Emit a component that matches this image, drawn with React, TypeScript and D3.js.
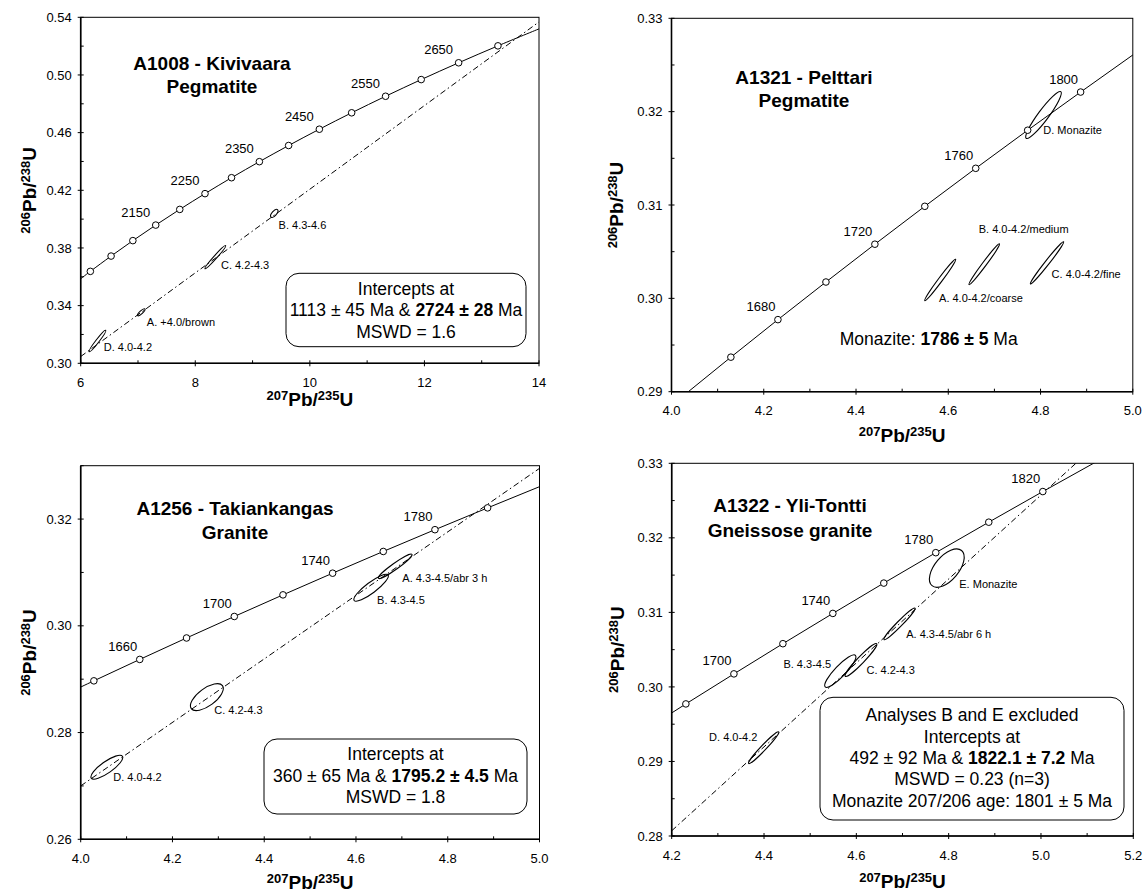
import React from 'react';
import * as d3 from 'd3';

const FONT = '"Liberation Sans", Arial, Helvetica, sans-serif';

// Concordia tick points (Ma), younger range 1620-1860
const youngAges = [1620, 1640, 1660, 1680, 1700, 1720, 1740, 1760, 1780, 1800, 1820, 1840, 1860];
const youngX = [3.9306, 4.0287, 4.1287, 4.2307, 4.3348, 4.4409, 4.5491, 4.6595, 4.7721, 4.8869, 5.004, 5.1234, 5.2452];
const youngY = [0.2857, 0.28969, 0.2937, 0.29772, 0.30175, 0.3058, 0.30986, 0.31393, 0.31801, 0.3221, 0.32621, 0.33033, 0.33446];

// older range for the Kivivaara plot
const oldAges = [1970, 2000, 2050, 2100, 2150, 2200, 2250, 2300, 2350, 2400, 2450, 2500, 2550, 2600, 2650, 2700, 2750];
const oldX = [5.9598, 6.1685, 6.5304, 6.9105, 7.3097, 7.7292, 8.1699, 8.6327, 9.1189, 9.6296, 10.166, 10.7296, 11.3218, 11.9436, 12.597, 13.2833, 14.0037];
const oldY = [0.35743, 0.36377, 0.37438, 0.38509, 0.39587, 0.40674, 0.41769, 0.42873, 0.43986, 0.45107, 0.46237, 0.47376, 0.48523, 0.4968, 0.50845, 0.5202, 0.53203];

// A1008
const kivLabels = [2150, 2250, 2350, 2450, 2550, 2650];
const kivDiscX = [6, 14];
const kivDiscY = [0.3047, 0.5368];
const kivEllipses = [
  { name: 'B. 4.3-4.6', x1: 9.323, y1: 0.4014, x2: 9.435, y2: 0.4066, ratio: 0.45, lx: 9.454, ly: 0.3933 },
  { name: 'C. 4.2-4.3', x1: 8.17, y1: 0.3656, x2: 8.53, y2: 0.3816, ratio: 0.1, lx: 8.448, ly: 0.3651 },
  { name: 'A. +4.0/brown', x1: 6.994, y1: 0.3331, x2: 7.121, y2: 0.3377, ratio: 0.3, lx: 7.155, ly: 0.3258 },
  { name: 'D. 4.0-4.2', x1: 6.149, y1: 0.308, x2: 6.437, y2: 0.3229, ratio: 0.12, lx: 6.402, ly: 0.3087 },
];

// A1321
const pelLabels = [1680, 1720, 1760, 1800];
const pelEllipses = [
  { name: 'A. 4.0-4.2/coarse', x1: 4.549, y1: 0.29975, x2: 4.616, y2: 0.30419, ratio: 0.08, lx: 4.58, ly: 0.2996 },
  { name: 'B. 4.0-4.2/medium', x1: 4.645, y1: 0.30147, x2: 4.711, y2: 0.30584, ratio: 0.08, lx: 4.666, ly: 0.307 },
  { name: 'C. 4.0-4.2/fine', x1: 4.778, y1: 0.30154, x2: 4.85, y2: 0.30606, ratio: 0.08, lx: 4.824, ly: 0.3022 },
  { name: 'D. Monazite', x1: 4.769, y1: 0.31714, x2: 4.844, y2: 0.32214, ratio: 0.18, lx: 4.806, ly: 0.3176 },
];

// A1256
const takLabels = [1660, 1700, 1740, 1780];
const takDiscX = [4.0, 5.0];
const takDiscY = [0.27, 0.3295];
const takEllipses = [
  { name: 'A. 4.3-4.5/abr 3 h', x1: 4.649, y1: 0.30891, x2: 4.722, y2: 0.3134, ratio: 0.15, lx: 4.701, ly: 0.3083 },
  { name: 'B. 4.3-4.5', x1: 4.596, y1: 0.30474, x2: 4.67, y2: 0.30953, ratio: 0.25, lx: 4.646, ly: 0.304 },
  { name: 'C. 4.2-4.3', x1: 4.241, y1: 0.28449, x2: 4.309, y2: 0.2888, ratio: 0.45, lx: 4.291, ly: 0.2835 },
  { name: 'D. 4.0-4.2', x1: 4.023, y1: 0.27145, x2: 4.091, y2: 0.27557, ratio: 0.3, lx: 4.071, ly: 0.2709 },
];

// A1322
const yliLabels = [1700, 1740, 1780, 1820];
const yliDiscX = [4.2, 5.2];
const yliDiscY = [0.2807, 0.337];
const yliEllipses = [
  { name: 'E. Monazite', x1: 4.764, y1: 0.31358, x2: 4.828, y2: 0.3183, ratio: 0.52, lx: 4.823, ly: 0.3133 },
  { name: 'A. 4.3-4.5/abr 6 h', x1: 4.66, y1: 0.30634, x2: 4.727, y2: 0.31058, ratio: 0.12, lx: 4.708, ly: 0.3066 },
  { name: 'B. 4.3-4.5', x1: 4.5325, y1: 0.3, x2: 4.598, y2: 0.30424, ratio: 0.25, lx: 4.442, ly: 0.3025 },
  { name: 'C. 4.2-4.3', x1: 4.576, y1: 0.30143, x2: 4.644, y2: 0.3058, ratio: 0.15, lx: 4.622, ly: 0.3017 },
  { name: 'D. 4.0-4.2', x1: 4.3667, y1: 0.28973, x2: 4.4317, y2: 0.29397, ratio: 0.12, lx: 4.281, ly: 0.2928 },
];

// axis ticks
const kivXMajor = [6, 8, 10, 12, 14];
const kivXMinor = [7, 9, 11, 13];
const kivYMajor = [0.3, 0.34, 0.38, 0.42, 0.46, 0.5, 0.54];
const kivYMinor = [0.32, 0.36, 0.4, 0.44, 0.48, 0.52];
const x4Major = [4.0, 4.2, 4.4, 4.6, 4.8, 5.0];
const x4Minor = [4.1, 4.3, 4.5, 4.7, 4.9];
const x42Major = [4.2, 4.4, 4.6, 4.8, 5.0, 5.2];
const x42Minor = [4.3, 4.5, 4.7, 4.9, 5.1];
const pelYMajor = [0.29, 0.3, 0.31, 0.32, 0.33];
const pelYMinor = [0.295, 0.305, 0.315, 0.325];
const takYMajor = [0.26, 0.28, 0.3, 0.32];
const takYMinor = [0.27, 0.29, 0.31, 0.33];
const yliYMajor = [0.28, 0.29, 0.3, 0.31, 0.32, 0.33];
const yliYMinor = [0.285, 0.295, 0.305, 0.315, 0.325];

type Seg = { t: string; b?: boolean };

const panels = [
  {
    id: 'kiv', left: 80.7, right: 539, top: 17.3, bottom: 363.3,
    xDomain: [6, 14], yDomain: [0.3, 0.54], xMajor: kivXMajor, xMinor: kivXMinor, yMajor: kivYMajor, yMinor: kivYMinor,
    xFmt: d3.format('d'), ages: oldAges, cx: oldX, cy: oldY, labels: kivLabels, labelDx: -20,
    disc: [kivDiscX, kivDiscY], ellipses: kivEllipses,
    title: ['A1008 - Kivivaara', 'Pegmatite'], titleX: 212, titleY: [70, 93], yTitleX: 36, xTitleY: 406,
    box: { x: 286, y: 273.3, w: 240, h: 73.4, cx: 406, ys: [294.5, 316, 337.5] },
    lines: [
      [{ t: 'Intercepts at' }],
      [{ t: '1113 ± 45 Ma & ' }, { t: '2724 ± 28', b: true }, { t: ' Ma' }],
      [{ t: 'MSWD = 1.6' }],
    ] as Seg[][],
  },
  {
    id: 'pel', left: 671.5, right: 1132.8, top: 18.3, bottom: 391.7,
    xDomain: [4, 5], yDomain: [0.29, 0.33], xMajor: x4Major, xMinor: x4Minor, yMajor: pelYMajor, yMinor: pelYMinor,
    xFmt: d3.format('.1f'), ages: youngAges, cx: youngX, cy: youngY, labels: pelLabels, labelDx: -17,
    disc: null, ellipses: pelEllipses,
    title: ['A1321 - Pelttari', 'Pegmatite'], titleX: 804, titleY: [84, 107], yTitleX: 623, xTitleY: 442,
    box: null, note: { x: 928.7, y: 345 },
    lines: [[{ t: 'Monazite: ' }, { t: '1786 ± 5', b: true }, { t: ' Ma' }]] as Seg[][],
  },
  {
    id: 'tak', left: 80.7, right: 539.5, top: 465.7, bottom: 839.3,
    xDomain: [4, 5], yDomain: [0.26, 0.33], xMajor: x4Major, xMinor: x4Minor, yMajor: takYMajor, yMinor: takYMinor,
    xFmt: d3.format('.1f'), ages: youngAges, cx: youngX, cy: youngY, labels: takLabels, labelDx: -17,
    disc: [takDiscX, takDiscY], ellipses: takEllipses,
    title: ['A1256 - Takiankangas', 'Granite'], titleX: 235, titleY: [515, 539], yTitleX: 36, xTitleY: 889,
    box: { x: 264, y: 739, w: 263, h: 75, cx: 395.5, ys: [760, 781.7, 802.7] },
    lines: [
      [{ t: 'Intercepts at' }],
      [{ t: '360 ± 65 Ma & ' }, { t: '1795.2 ± 4.5', b: true }, { t: ' Ma' }],
      [{ t: 'MSWD = 1.8' }],
    ] as Seg[][],
  },
  {
    id: 'yli', left: 671.7, right: 1133.3, top: 463.3, bottom: 836,
    xDomain: [4.2, 5.2], yDomain: [0.28, 0.33], xMajor: x42Major, xMinor: x42Minor, yMajor: yliYMajor, yMinor: yliYMinor,
    xFmt: d3.format('.1f'), ages: youngAges, cx: youngX, cy: youngY, labels: yliLabels, labelDx: -17,
    disc: [yliDiscX, yliDiscY], ellipses: yliEllipses,
    title: ['A1322 - Yli-Tontti', 'Gneissose granite'], titleX: 790, titleY: [512, 537], yTitleX: 624, xTitleY: 888,
    box: { x: 820, y: 697.3, w: 304, h: 122.7, cx: 972, ys: [721, 742.7, 764.3, 785.3, 806.7] },
    lines: [
      [{ t: 'Analyses B and E excluded' }],
      [{ t: 'Intercepts at' }],
      [{ t: '492 ± 92 Ma & ' }, { t: '1822.1 ± 7.2', b: true }, { t: ' Ma' }],
      [{ t: 'MSWD = 0.23 (n=3)' }],
      [{ t: 'Monazite 207/206 age: 1801 ± 5 Ma' }],
    ] as Seg[][],
  },
];

const Ratio = ({ top, x, y, rotate }: { top: [string, string]; x: number; y: number; rotate?: boolean }) => (
  <text
    transform={rotate ? `translate(${x},${y}) rotate(-90)` : `translate(${x},${y})`}
    textAnchor="middle" fontWeight="bold" fontSize={19} fontFamily={FONT}
  >
    <tspan fontSize={13} dy={-6}>{top[0]}</tspan>
    <tspan dy={6}>Pb/</tspan>
    <tspan fontSize={13} dy={-6}>{top[1]}</tspan>
    <tspan dy={6}>U</tspan>
  </text>
);

const Rich = ({ segs }: { segs: Seg[] }) => (
  <>
    {segs.map((s, i) => (
      <tspan key={i} fontWeight={s.b ? 'bold' : 'normal'}>{s.t}</tspan>
    ))}
  </>
);

const Panel = ({ p }: { p: any }) => {
  const x = d3.scaleLinear().domain(p.xDomain).range([p.left, p.right]);
  const y = d3.scaleLinear().domain(p.yDomain).range([p.bottom, p.top]);
  const eps = 1e-6;
  const inside = (vx: number, vy: number) =>
    vx >= p.xDomain[0] + eps && vx <= p.xDomain[1] - eps && vy >= p.yDomain[0] + eps && vy <= p.yDomain[1] - eps;

  const pts: [number, number][] = p.cx.map((v: number, i: number) => [v, p.cy[i]]);
  const conc = d3.line<[number, number]>().x(d => x(d[0])).y(d => y(d[1])).curve(d3.curveCatmullRom)(pts);
  const disc = p.disc
    ? d3.line<number>().x(d => x(p.disc[0][d])).y(d => y(p.disc[1][d]))([0, 1])
    : null;
  const clipId = `clip-${p.id}`;
  const yFmt = d3.format('.2f');

  return (
    <g fontFamily={FONT}>
      <defs>
        <clipPath id={clipId}>
          <rect x={p.left} y={p.top} width={p.right - p.left} height={p.bottom - p.top} />
        </clipPath>
      </defs>

      {/* frame */}
      <rect x={p.left} y={p.top} width={p.right - p.left} height={p.bottom - p.top} fill="none" stroke="#000" strokeWidth={1} />
      <line x1={p.left} x2={p.right} y1={p.bottom} y2={p.bottom} stroke="#000" strokeWidth={1.6} />
      <line x1={p.left} x2={p.left} y1={p.top} y2={p.bottom} stroke="#000" strokeWidth={1.6} />

      {/* ticks */}
      {p.xMajor.map((v: number) => (
        <g key={'xm' + v}>
          <line x1={x(v)} x2={x(v)} y1={p.bottom - 3} y2={p.bottom + 3} stroke="#000" />
          <text x={x(v)} y={p.bottom + 23.5} textAnchor="middle" fontSize={13}>{p.xFmt(v)}</text>
        </g>
      ))}
      {p.xMinor.map((v: number) => (
        <line key={'xn' + v} x1={x(v)} x2={x(v)} y1={p.bottom - 3} y2={p.bottom} stroke="#000" />
      ))}
      {p.yMajor.map((v: number) => (
        <g key={'ym' + v}>
          <line x1={p.left - 3} x2={p.left + 3} y1={y(v)} y2={y(v)} stroke="#000" />
          <text x={p.left - 9} y={y(v) + 4.6} textAnchor="end" fontSize={13}>{yFmt(v)}</text>
        </g>
      ))}
      {p.yMinor.map((v: number) => (
        <line key={'yn' + v} x1={p.left} x2={p.left + 3} y1={y(v)} y2={y(v)} stroke="#000" />
      ))}

      {/* lines */}
      <g clipPath={`url(#${clipId})`}>
        {disc && <path d={disc} fill="none" stroke="#000" strokeWidth={1} strokeDasharray="6,3,1.5,3" />}
        <path d={conc || ''} fill="none" stroke="#000" strokeWidth={1} />
      </g>

      {/* error ellipses */}
      {p.ellipses.map((e: any) => {
        const ax = x(e.x1), ay = y(e.y1), bx = x(e.x2), by = y(e.y2);
        const cxp = (ax + bx) / 2, cyp = (ay + by) / 2;
        const rx = Math.hypot(bx - ax, by - ay) / 2;
        const ang = (Math.atan2(by - ay, bx - ax) * 180) / Math.PI;
        return (
          <g key={e.name}>
            <ellipse cx={cxp} cy={cyp} rx={rx} ry={Math.max(rx * e.ratio, 1)}
              transform={`rotate(${ang} ${cxp} ${cyp})`} fill="none" stroke="#000" strokeWidth={1.1} />
            <text x={x(e.lx)} y={y(e.ly)} fontSize={11}>{e.name}</text>
          </g>
        );
      })}

      {/* concordia age marks */}
      {p.ages.map((a: number, i: number) =>
        inside(p.cx[i], p.cy[i]) ? (
          <circle key={'c' + a} cx={x(p.cx[i])} cy={y(p.cy[i])} r={3.3} fill="#fff" stroke="#000" strokeWidth={1} />
        ) : null
      )}
      {p.labels.map((a: number) => {
        const i = p.ages.indexOf(a);
        return (
          <text key={'l' + a} x={x(p.cx[i]) + p.labelDx} y={y(p.cy[i]) - 8.5} textAnchor="middle" fontSize={13}>{a}</text>
        );
      })}

      {/* sample title */}
      {p.title.map((t: string, i: number) => (
        <text key={t} x={p.titleX} y={p.titleY[i]} textAnchor="middle" fontWeight="bold" fontSize={19}>{t}</text>
      ))}

      {/* result box */}
      {p.box && (
        <g>
          <rect x={p.box.x} y={p.box.y} width={p.box.w} height={p.box.h} rx={13} ry={13} fill="#fff" stroke="#000" strokeWidth={1} />
          {p.lines.map((l: Seg[], i: number) => (
            <text key={i} x={p.box.cx} y={p.box.ys[i]} textAnchor="middle" fontSize={17.5}><Rich segs={l} /></text>
          ))}
        </g>
      )}
      {p.note && (
        <text x={p.note.x} y={p.note.y} textAnchor="middle" fontSize={17.5}><Rich segs={p.lines[0]} /></text>
      )}

      {/* axis titles */}
      <Ratio top={['207', '235']} x={(p.left + p.right) / 2} y={p.xTitleY} />
      <Ratio top={['206', '238']} x={p.yTitleX} y={(p.top + p.bottom) / 2} rotate />
    </g>
  );
};

export default function App() {
  return (
    <svg width={1144} height={895} style={{ position: 'absolute', left: 0, top: 0, background: '#fff' }}>
      <rect width={1144} height={895} fill="#fff" />
      {panels.map(p => (
        <Panel key={p.id} p={p} />
      ))}
    </svg>
  );
}
